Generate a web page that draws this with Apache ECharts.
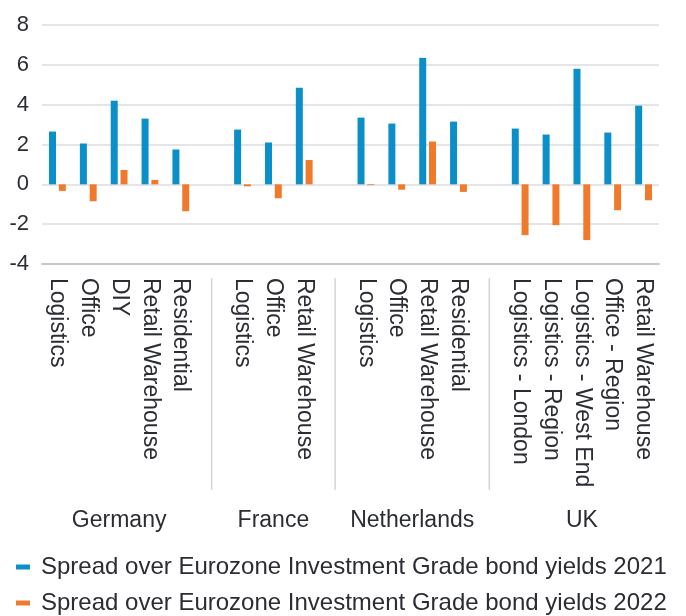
<!DOCTYPE html>
<html>
<head>
<meta charset="utf-8">
<script src="https://cdn.jsdelivr.net/npm/echarts@6/dist/echarts.min.js"></script>
<style>
  html, body { margin: 0; padding: 0; background: #fff; }
  #chart { width: 686px; height: 616px; }
</style>
</head>
<body>
<div id="chart"></div>
<script>
// categories, with an empty slot between countries
const categories = [
  'Logistics', 'Office', 'DIY', 'Retail Warehouse', 'Residential', '',
  'Logistics', 'Office', 'Retail Warehouse', '',
  'Logistics', 'Office', 'Retail Warehouse', 'Residential', '',
  'Logistics - London', 'Logistics - Region', 'Logistics - West End', 'Office - Region', 'Retail Warehouse'
]
const groupNames = ['Germany', 'France', 'Netherlands', 'UK']
const groupStarts = [0, 6, 10, 15]
const groupSizes = [5, 3, 4, 5]
const separatorIdx = [5, 9, 14]

const seriesNames = [
  'Spread over Eurozone Investment Grade bond yields 2021',
  'Spread over Eurozone Investment Grade bond yields 2022',
]
const spread2021 = [2.65, 2.05, 4.2, 3.3, 1.75, null, 2.75, 2.1, 4.85, null, 3.35, 3.05, 6.35, 3.15, null, 2.8, 2.5, 5.8, 2.6, 3.95]
const spread2022 = [-0.33, -0.85, 0.72, 0.22, -1.35, null, -0.1, -0.7, 1.22, null, -0.04, -0.27, 2.15, -0.38, null, -2.55, -2.05, -2.8, -1.3, -0.8]

const FONT = 'Liberation Sans, Arial, sans-serif'
const TEXT = '#2b2d33'

// 国家标签放在每组中间（数值轴 0..20）
const groupCenters = groupStarts.map((s, i) => s + groupSizes[i] / 2)

const chart = echarts.init(document.getElementById('chart'))
chart.setOption({
  animation: false,
  grid: { left: 42, right: 27, top: 25, bottom: 352, outerBoundsMode: 'none' },
  legend: {
    data: seriesNames,
    orient: 'vertical',
    left: 16,
    top: 555,
    height: 80,
    padding: 0,
    icon: 'rect',
    itemWidth: 14,
    itemHeight: 5,
    itemGap: 12,
    textStyle: { fontSize: 24, lineHeight: 24, color: TEXT, fontFamily: FONT, padding: [0, 0, 0, 6] },
  },
  xAxis: [
    {
      type: 'category',
      data: categories,
      axisLine: { onZero: false, lineStyle: { color: '#c6c7c9', width: 2 } },
      axisTick: { show: false },
      axisLabel: {
        interval: 0,
        rotate: -90,
        margin: 14,
        fontSize: 23,
        color: TEXT,
        fontFamily: FONT,
      },
    },
    // 国家名称
    {
      type: 'value',
      min: 0,
      max: categories.length,
      interval: 0.5,
      position: 'bottom',
      axisLine: { show: false },
      axisTick: { show: false },
      splitLine: { show: false },
      axisLabel: {
        margin: 245,
        fontSize: 23,
        color: TEXT,
        fontFamily: FONT,
        formatter: (v) => {
          const i = groupCenters.indexOf(v)
          return i >= 0 ? groupNames[i] : ''
        },
      },
    },
  ],
  yAxis: {
    type: 'value',
    min: -4,
    max: 8,
    interval: 2,
    axisLine: { show: false },
    axisTick: { show: false },
    axisLabel: { fontSize: 22, color: TEXT, fontFamily: FONT, margin: 13 },
    splitLine: { lineStyle: { color: '#dcdde0', width: 1.5 } },
  },
  series: [
    {
      name: seriesNames[0],
      type: 'bar',
      data: spread2021,
      barWidth: 7,
      barGap: '40%',
      itemStyle: { color: '#0b8fc9' },
    },
    {
      name: seriesNames[1],
      type: 'bar',
      data: spread2022,
      barWidth: 7,
      itemStyle: { color: '#f07a2c' },
    },
  ],
})

// 分组之间的竖分隔线，位置取自类目轴
const axisY = chart.convertToPixel({ yAxisIndex: 0 }, -4)
chart.setOption({
  graphic: separatorIdx.map(idx => ({
    type: 'line',
    silent: true,
    shape: {
      x1: chart.convertToPixel({ xAxisIndex: 0 }, idx),
      y1: axisY + 14,
      x2: chart.convertToPixel({ xAxisIndex: 0 }, idx),
      y2: axisY + 226,
    },
    style: { stroke: '#d3d4d6', lineWidth: 1.5 },
  })),
})
</script>
</body>
</html>
